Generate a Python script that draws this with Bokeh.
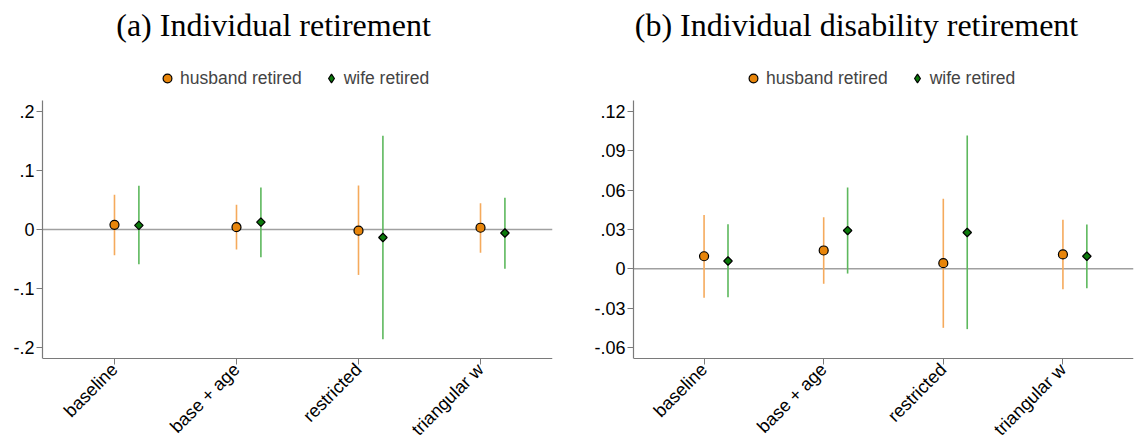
import math
from bokeh.plotting import figure
from bokeh.models import (Range1d, FixedTicker, Span, Legend, LegendItem, Label)
from bokeh.layouts import row
from bokeh.embed import file_html
from bokeh.resources import INLINE

categories = ["baseline", "base + age", "restricted", "triangular w"]
cat_pos = [1, 2, 3, 4]
wife_shift = 0.2

a_husband_est = [0.008, 0.004, -0.002, 0.003]
a_husband_lo = [-0.0435, -0.034, -0.077, -0.0395]
a_husband_hi = [0.059, 0.042, 0.0746, 0.0446]
a_wife_est = [0.007, 0.0124, -0.0136, -0.006]
a_wife_lo = [-0.059, -0.047, -0.186, -0.0666]
a_wife_hi = [0.074, 0.071, 0.159, 0.054]
a_ticks = [-0.2, -0.1, 0.0, 0.1, 0.2]
a_tick_labels = ["-.2", "-.1", "0", ".1", ".2"]

b_husband_est = [0.0096, 0.014, 0.0043, 0.011]
b_husband_lo = [-0.022, -0.0114, -0.045, -0.0156]
b_husband_hi = [0.041, 0.0394, 0.0534, 0.0374]
b_wife_est = [0.006, 0.0292, 0.0277, 0.0096]
b_wife_lo = [-0.0216, -0.0036, -0.046, -0.0148]
b_wife_hi = [0.034, 0.062, 0.1017, 0.0338]
b_ticks = [-0.06, -0.03, 0.0, 0.03, 0.06, 0.09, 0.12]
b_tick_labels = ["-.06", "-.03", "0", ".03", ".06", ".09", ".12"]

HUSB_CI = "#F5AA5C"
HUSB_FILL = "#E8850A"
WIFE_CI = "#5DB85D"
WIFE_FILL = "#0B7A0B"
AXIS_COL = "#7a7a7a"
SANS = "Liberation Sans"

FIG_H = 438
HEADER_PX = 100      # space above the plotting region (title + legend)
PLOT_PX = 258        # height of the plotting region
BOTTOM_PX = FIG_H - HEADER_PX - PLOT_PX


def make_panel(title, h_est, h_lo, h_hi, w_est, w_lo, w_hi, ticks, tick_labels,
               yr, width, border_left, border_right, title_x, legend_x):
    ymin, ymax = yr
    span = ymax - ymin
    ytop = ymax + span * HEADER_PX / PLOT_PX
    ybot = ymin - span * BOTTOM_PX / PLOT_PX
    p = figure(width=width, height=FIG_H, output_backend="svg", toolbar_location=None,
               x_range=Range1d(0.41, 4.59), y_range=Range1d(ybot, ytop),
               min_border_left=border_left, min_border_right=border_right,
               min_border_top=0, min_border_bottom=0)
    p.outline_line_color = None
    p.xgrid.visible = False
    p.ygrid.visible = False

    p.add_layout(Label(x=title_x, y=FIG_H - 24.5, x_units="screen", y_units="screen",
                       text=title, text_align="center", text_baseline="alphabetic",
                       text_font="Liberation Serif", text_font_size="32px",
                       text_color="black"))

    zero = Span(location=0, dimension="width", line_color="#a0a0a0",
                line_width=1.5, level="underlay")
    p.add_layout(zero)

    wx = [c + wife_shift for c in cat_pos]
    p.segment(x0=cat_pos, y0=h_lo, x1=cat_pos, y1=h_hi, line_color=HUSB_CI, line_width=1.6)
    p.segment(x0=wx, y0=w_lo, x1=wx, y1=w_hi, line_color=WIFE_CI, line_width=1.6)
    rh = p.scatter(x=cat_pos, y=h_est, marker="circle", size=9, fill_color=HUSB_FILL,
                   line_color="black", line_width=1.2)
    # diamond key for the legend, hidden underneath the wife markers
    rw_key = p.scatter(x=wx, y=w_est, marker="diamond", size=1, fill_color=WIFE_FILL,
                       line_color="black", line_width=1.2)
    p.scatter(x=wx, y=w_est, marker="square", angle=math.pi / 4, size=6,
              fill_color=WIFE_FILL, line_color="black", line_width=1.2)

    legend = Legend(items=[LegendItem(label="husband retired", renderers=[rh]),
                           LegendItem(label="wife retired", renderers=[rw_key])],
                    orientation="horizontal", location=(legend_x, FIG_H - 89),
                    label_text_font=SANS, label_text_font_size="17.5px",
                    glyph_width=22, glyph_height=22, label_standoff=2, spacing=18,
                    padding=0, margin=0, border_line_color=None,
                    background_fill_alpha=0)
    p.add_layout(legend)

    yax = p.yaxis[0]
    yax.ticker = FixedTicker(ticks=ticks)
    yax.major_label_overrides = {t: l for t, l in zip(ticks, tick_labels)}
    yax.bounds = (ymin, ymax)
    yax.major_label_text_font_size = "18px"
    xax = p.xaxis[0]
    xax.fixed_location = ymin
    xax.ticker = FixedTicker(ticks=cat_pos)
    xax.major_label_overrides = {c: n for c, n in zip(cat_pos, categories)}
    xax.major_label_orientation = math.pi / 4
    xax.major_label_text_font_size = "18px"
    for ax in (xax, yax):
        ax.axis_line_color = AXIS_COL
        ax.axis_line_width = 1.2
        ax.major_tick_line_color = AXIS_COL
        ax.major_tick_out = 6
        ax.major_tick_in = 0
        ax.minor_tick_line_color = None
        ax.major_label_text_font = SANS
        ax.major_label_text_color = "black"
        ax.major_label_standoff = 2
    return p


pa = make_panel("(a) Individual retirement", a_husband_est, a_husband_lo, a_husband_hi,
                a_wife_est, a_wife_lo, a_wife_hi, a_ticks, a_tick_labels,
                (-0.2186, 0.2186), 567, 42, 15, 231, 114)
pb = make_panel("(b) Individual disability retirement", b_husband_est, b_husband_lo,
                b_husband_hi, b_wife_est, b_wife_lo, b_wife_hi, b_ticks, b_tick_labels,
                (-0.0684, 0.1284), 567, 66, 1, 223, 109)

layout = row(pa, pb)
open("out.html", "w").write(file_html(layout, INLINE))
